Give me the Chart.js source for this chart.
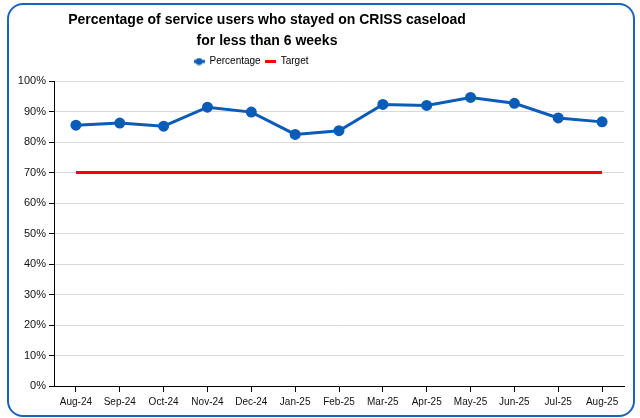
<!DOCTYPE html>
<html>
<head>
<meta charset="utf-8">
<script src="https://cdn.jsdelivr.net/npm/chart.js@4"></script>
<style>
  body { margin: 0; background: #fff; }
  #wrap { position: relative; width: 640px; height: 418px; }
  #frame {
    position: absolute; left: 7px; top: 3px; width: 624px; height: 410px;
    border: 2px solid #1a62bf; border-radius: 16px; pointer-events: none;
  }
  canvas { position: absolute; left: 0; top: 0; }
</style>
</head>
<body>
<div id="wrap">
  <canvas id="myChart" width="640" height="418"></canvas>
  <div id="frame"></div>
</div>
<script>
const months = ["Aug-24", "Sep-24", "Oct-24", "Nov-24", "Dec-24", "Jan-25", "Feb-25",
  "Mar-25", "Apr-25", "May-25", "Jun-25", "Jul-25", "Aug-25"];
const percentage = [85.5, 86.2, 85.2, 91.4, 89.8, 82.5, 83.7, 92.3, 92.0, 94.6, 92.7, 87.9, 86.6];
const target = [70, 70, 70, 70, 70, 70, 70, 70, 70, 70, 70, 70, 70];
const titleLines = ["Percentage of service users who stayed on CRISS caseload", "for less than 6 weeks"];

const blue = "#0a5cb8";
const red = "#ff0000";
const font = "'Liberation Sans', Arial, sans-serif";

// small legend markers
function marker(w, h, color, dot) {
  let c = document.createElement("canvas");
  c.width = w; c.height = h;
  let ctx = c.getContext("2d");
  ctx.fillStyle = color;
  ctx.fillRect(0, h / 2 - 1.5, w, 3);
  if (dot) {
    ctx.beginPath();
    ctx.arc(w / 2, h / 2, 3.5, 0, Math.PI * 2);
    ctx.fill();
  }
  return c;
}
const blueMark = marker(11, 8, blue, true);
const redMark = marker(11, 3, red, false);

// title & legend in the original sit left of the page centre and a bit higher
const shiftBoxes = {
  id: "shiftBoxes",
  afterLayout(chart) {
    let t = chart.titleBlock;
    t.left = 0; t.right = 534; t.width = 534;
    t.top -= 4.5; t.bottom -= 4.5;
    let lg = chart.legend;
    let pad = lg.options.labels.padding;
    lg.left = 0; lg.right = 506 - pad; lg.width = 506 - pad;
    lg.top -= 4.5; lg.bottom -= 4.5;
  }
};

new Chart("myChart", {
  type: "line",
  data: {
    labels: months,
    datasets: [
      {
        label: "Percentage",
        data: percentage,
        borderColor: blue,
        backgroundColor: blue,
        borderWidth: 3,
        pointRadius: 4,
        pointBackgroundColor: blue,
        pointBorderColor: blue,
        lineTension: 0,
        fill: false,
      },
      {
        label: "Target",
        data: target,
        borderColor: red,
        backgroundColor: red,
        borderWidth: 3,
        pointRadius: 0,
        lineTension: 0,
        fill: false,
      },
    ],
  },
  options: {
    responsive: false,
    animation: false,
    layout: { padding: { left: 8, right: 16, top: 0, bottom: 2 } },
    plugins: {
      title: {
        display: true,
        text: titleLines,
        color: "#000",
        font: { family: font, size: 14, weight: "bold", lineHeight: 1.5 },
        padding: { top: 2.5, bottom: 1 },
      },
      legend: {
        labels: {
          usePointStyle: true,
          pointStyleWidth: 11,
          padding: 4,
          color: "#111",
          font: { family: font, size: 10 },
          generateLabels: (chart) => [
            { text: "Percentage", pointStyle: blueMark, fillStyle: blue, strokeStyle: blue, lineWidth: 0, hidden: false, datasetIndex: 0 },
            { text: "Target", pointStyle: redMark, fillStyle: red, strokeStyle: red, lineWidth: 0, hidden: false, datasetIndex: 1 },
          ],
        },
      },
      tooltip: { enabled: false },
    },
    scales: {
      x: {
        offset: true,
        grid: { offset: false, drawOnChartArea: false, tickColor: "#000", tickLength: 6 },
        border: { color: "#000" },
        ticks: { color: "#111", padding: 4, maxRotation: 0, autoSkip: false, font: { family: font, size: 10 } },
        afterFit: (s) => { s.height = 30; },
      },
      y: {
        min: 0,
        max: 100,
        grid: { color: "#d9d9d9", tickColor: "#000", tickLength: 5 },
        border: { color: "#000" },
        ticks: {
          stepSize: 10,
          color: "#111",
          padding: 3,
          font: { family: font, size: 11 },
          callback: (v) => v + "%",
        },
        afterFit: (s) => { s.width = 46; s.paddingTop = 81; },
      },
    },
  },
  plugins: [shiftBoxes],
});
</script>
</body>
</html>
